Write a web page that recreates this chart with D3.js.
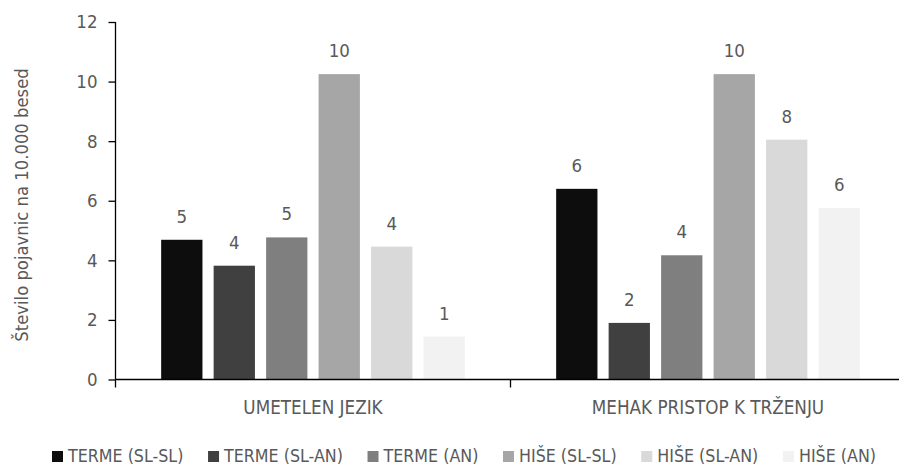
<!DOCTYPE html>
<html>
<head>
<meta charset="utf-8">
<script src="https://cdn.jsdelivr.net/npm/d3@7"></script>
<style>
  html, body { margin: 0; padding: 0; background: #fff; }
  svg text { font-family: "DejaVu Sans Condensed", "DejaVu Sans", sans-serif; fill: #595959; }
</style>
</head>
<body>
<svg id="chart" width="899" height="466"></svg>
<script>
// Categories along the x axis
const categories = ["UMETELEN JEZIK", "MEHAK PRISTOP K TRŽENJU"];
// Series (one bar per series in each category)
const seriesNames = ["TERME (SL-SL)", "TERME (SL-AN)", "TERME (AN)", "HIŠE (SL-SL)", "HIŠE (SL-AN)", "HIŠE (AN)"];
const seriesColors = ["#0d0d0d", "#404040", "#7f7f7f", "#a6a6a6", "#d9d9d9", "#f2f2f2"];
// Occurrences per 10,000 words, per series, in category order
const termeSlSl = [4.69, 6.40];
const termeSlAn = [3.82, 1.90];
const termeAn   = [4.77, 4.17];
const hiseSlSl  = [10.25, 10.25];
const hiseSlAn  = [4.46, 8.05];
const hiseAn    = [1.44, 5.76];
const yTicks = [0, 2, 4, 6, 8, 10, 12];
const yTitle = "Število pojavnic na 10.000 besed";

const seriesValues = [termeSlSl, termeSlAn, termeAn, hiseSlSl, hiseSlAn, hiseAn];

const svg = d3.select("#chart");
const plot = { left: 115.5, right: 905.5, top: 22, bottom: 379.5 };

const x0 = d3.scaleBand().domain(categories).range([plot.left, plot.right]).padding(0);
const x1 = d3.scaleBand().domain(seriesNames).range([0, x0.bandwidth()])
  .paddingInner(0.213).paddingOuter(0.87);
const y = d3.scaleLinear().domain([0, 12]).range([plot.bottom, plot.top]);

// Bars
const groups = svg.append("g").selectAll("g")
  .data(categories)
  .join("g")
  .attr("transform", c => `translate(${x0(c)},0)`);

const cells = (c, ci) => seriesNames.map((s, si) => ({ s, si, v: seriesValues[si][ci] }));

groups.selectAll("rect")
  .data(cells)
  .join("rect")
  .attr("x", d => x1(d.s))
  .attr("width", x1.bandwidth())
  .attr("y", d => y(d.v))
  .attr("height", d => y(0) - y(d.v))
  .attr("fill", d => seriesColors[d.si]);

// Value labels (rounded)
groups.selectAll("text.val")
  .data(cells)
  .join("text")
  .attr("class", "val")
  .attr("x", d => x1(d.s) + x1.bandwidth() / 2)
  .attr("y", d => y(d.v) - 17)
  .attr("text-anchor", "middle")
  .style("font-size", "18.5px")
  .text(d => d3.format(".0f")(d.v));

// Y axis
const yAxis = svg.append("g")
  .attr("transform", `translate(${plot.left},0)`)
  .call(d3.axisLeft(y).tickValues(yTicks).tickSize(7).tickPadding(11).tickFormat(d3.format("d")));
yAxis.select(".domain").remove();
yAxis.selectAll("line").attr("stroke", "#000").attr("stroke-width", 1.3);
yAxis.append("line").attr("x1", 0).attr("x2", 0).attr("y1", plot.top).attr("y2", plot.bottom)
  .attr("stroke", "#000").attr("stroke-width", 1.3);
yAxis.selectAll("text").style("font-size", "18.5px").attr("fill", "#595959");

// X axis with category boundary ticks
const xAxis = svg.append("g").attr("transform", `translate(0,${plot.bottom})`);
xAxis.append("line").attr("x1", plot.left).attr("x2", plot.right)
  .attr("stroke", "#000").attr("stroke-width", 1.3);
const boundaries = [plot.left, ...categories.map(c => x0(c) + x0.bandwidth())];
xAxis.selectAll("line.tick").data(boundaries).join("line")
  .attr("class", "tick")
  .attr("x1", d => d).attr("x2", d => d).attr("y1", 0).attr("y2", 8)
  .attr("stroke", "#000").attr("stroke-width", 1.3);
xAxis.selectAll("text").data(categories).join("text")
  .attr("x", c => x0(c) + x0.bandwidth() / 2)
  .attr("y", 34.5)
  .attr("text-anchor", "middle")
  .style("font-size", "18.7px")
  .text(c => c);

// Y axis title
svg.append("text")
  .attr("transform", `translate(28,205) rotate(-90)`)
  .attr("text-anchor", "middle")
  .style("font-size", "18.3px")
  .text(yTitle);

// Legend: spread entries between the outer edges
const legendLeft = 52, legendRight = 876;
const legend = svg.append("g");
const items = legend.selectAll("g").data(seriesNames).join("g");
items.append("rect").attr("width", 11).attr("height", 11).attr("y", -11)
  .attr("fill", (d, i) => seriesColors[i]);
items.append("text").attr("x", 16).attr("y", 0).style("font-size", "17.7px").text(d => d);
const widths = [];
items.each(function () {
  widths.push(d3.select(this).select("text").node().getComputedTextLength() + 16);
});
const gap = (legendRight - legendLeft - d3.sum(widths)) / (widths.length - 1);
let cx = legendLeft;
items.attr("transform", (d, i) => {
  const t = `translate(${cx},462)`;
  cx += widths[i] + gap;
  return t;
});
</script>
</body>
</html>
